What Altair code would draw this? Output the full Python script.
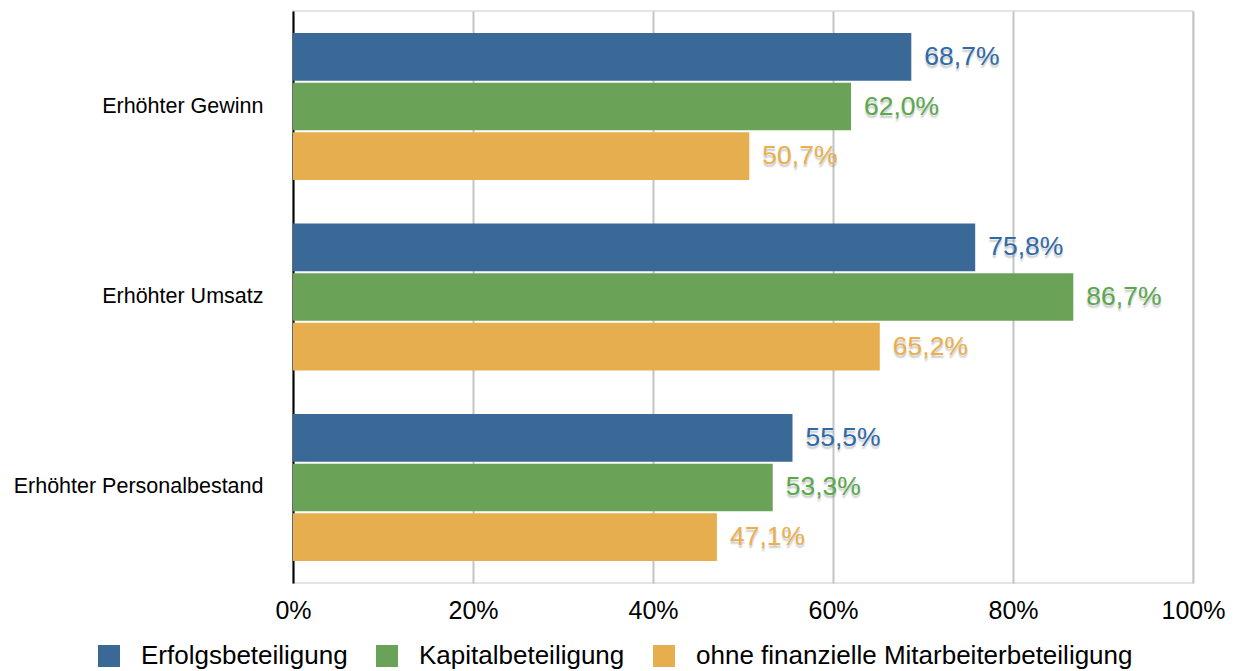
import altair as alt
import pandas as pd

categories = ["Erhöhter Gewinn", "Erhöhter Umsatz", "Erhöhter Personalbestand"]
series = ["Erfolgsbeteiligung", "Kapitalbeteiligung", "ohne finanzielle Mitarbeiterbeteiligung"]
erfolg = [68.7, 75.8, 55.5]
kapital = [62.0, 86.7, 53.3]
ohne = [50.7, 65.2, 47.1]
x_ticks = [0, 20, 40, 60, 80, 100]
bar_colors = ["#3a6897", "#6aa357", "#e6ae4e"]
label_colors = ["#2f6aa8", "#5aa84c", "#ebb04c"]

FONT = "Liberation Sans"

rows = []
for s, vals in zip(series, [erfolg, kapital, ohne]):
    for c, v in zip(categories, vals):
        rows.append({"cat": c, "series": s, "value": v,
                     "label": f"{v:.1f}%".replace(".", ",")})
df = pd.DataFrame(rows)

y = alt.Y("cat:N", sort=categories, title=None,
          scale=alt.Scale(paddingInner=0.228, paddingOuter=0.1155),
          axis=alt.Axis(domainColor="black", domainWidth=2, ticks=False,
                        labelFontSize=21.5, labelColor="black", labelPadding=30,
                        labelFont=FONT, labelLimit=400, grid=False))
yoff = alt.YOffset("series:N", sort=series, scale=alt.Scale(paddingInner=0.04))
x = alt.X("value:Q", scale=alt.Scale(domain=[0, 100], nice=False), title=None,
          axis=alt.Axis(values=x_ticks, labelExpr="datum.value + '%'",
                        domain=False, ticks=False, labelFontSize=25,
                        labelColor="black", labelPadding=15, labelFont=FONT,
                        labelFlush=False,
                        grid=True, gridColor="#c4c4c4", gridWidth=2))

base = alt.Chart(df)

bars = base.mark_bar().encode(
    x=x, y=y, yOffset=yoff,
    color=alt.Color("series:N", sort=series,
                    scale=alt.Scale(domain=series, range=bar_colors),
                    legend=alt.Legend(title=None, orient="none", direction="horizontal",
                                      legendX=-197, legendY=632,
                                      symbolType="square", symbolSize=484,
                                      symbolStrokeWidth=0, symbolOpacity=1,
                                      labelFontSize=26, labelFont=FONT,
                                      labelColor="black", labelOffset=19,
                                      columnPadding=26, labelLimit=700)),
)

shadows = []
for ddx, ddy, op in [(13, 2, 0.10), (14, 3, 0.08), (12, 3, 0.08), (13, 4, 0.06)]:
    shadows.append(base.mark_text(align="left", baseline="middle", dx=ddx, dy=ddy,
                                  fontSize=26.5, font=FONT, color="#555555",
                                  opacity=op).encode(
        x="value:Q", y=alt.Y("cat:N", sort=categories), yOffset=alt.YOffset("series:N", sort=series),
        text="label:N"))

labels = base.mark_text(align="left", baseline="middle", dx=13, fontSize=26.5,
                        font=FONT).encode(
    x="value:Q", y=alt.Y("cat:N", sort=categories),
    yOffset=alt.YOffset("series:N", sort=series),
    text="label:N",
    fill=alt.Fill("series:N", sort=series,
                  scale=alt.Scale(domain=series, range=label_colors), legend=None),
)

chart = alt.layer(bars, *shadows, labels).properties(
    width=900, height=572,
    autosize=alt.AutoSizeParams(type="none"),
    padding={"left": 285, "top": 3, "right": 34, "bottom": 88},
).configure_view(stroke="#dcdcdc", strokeWidth=1.5)

chart.save("out.html", embed_options={"renderer": "svg", "actions": False})
